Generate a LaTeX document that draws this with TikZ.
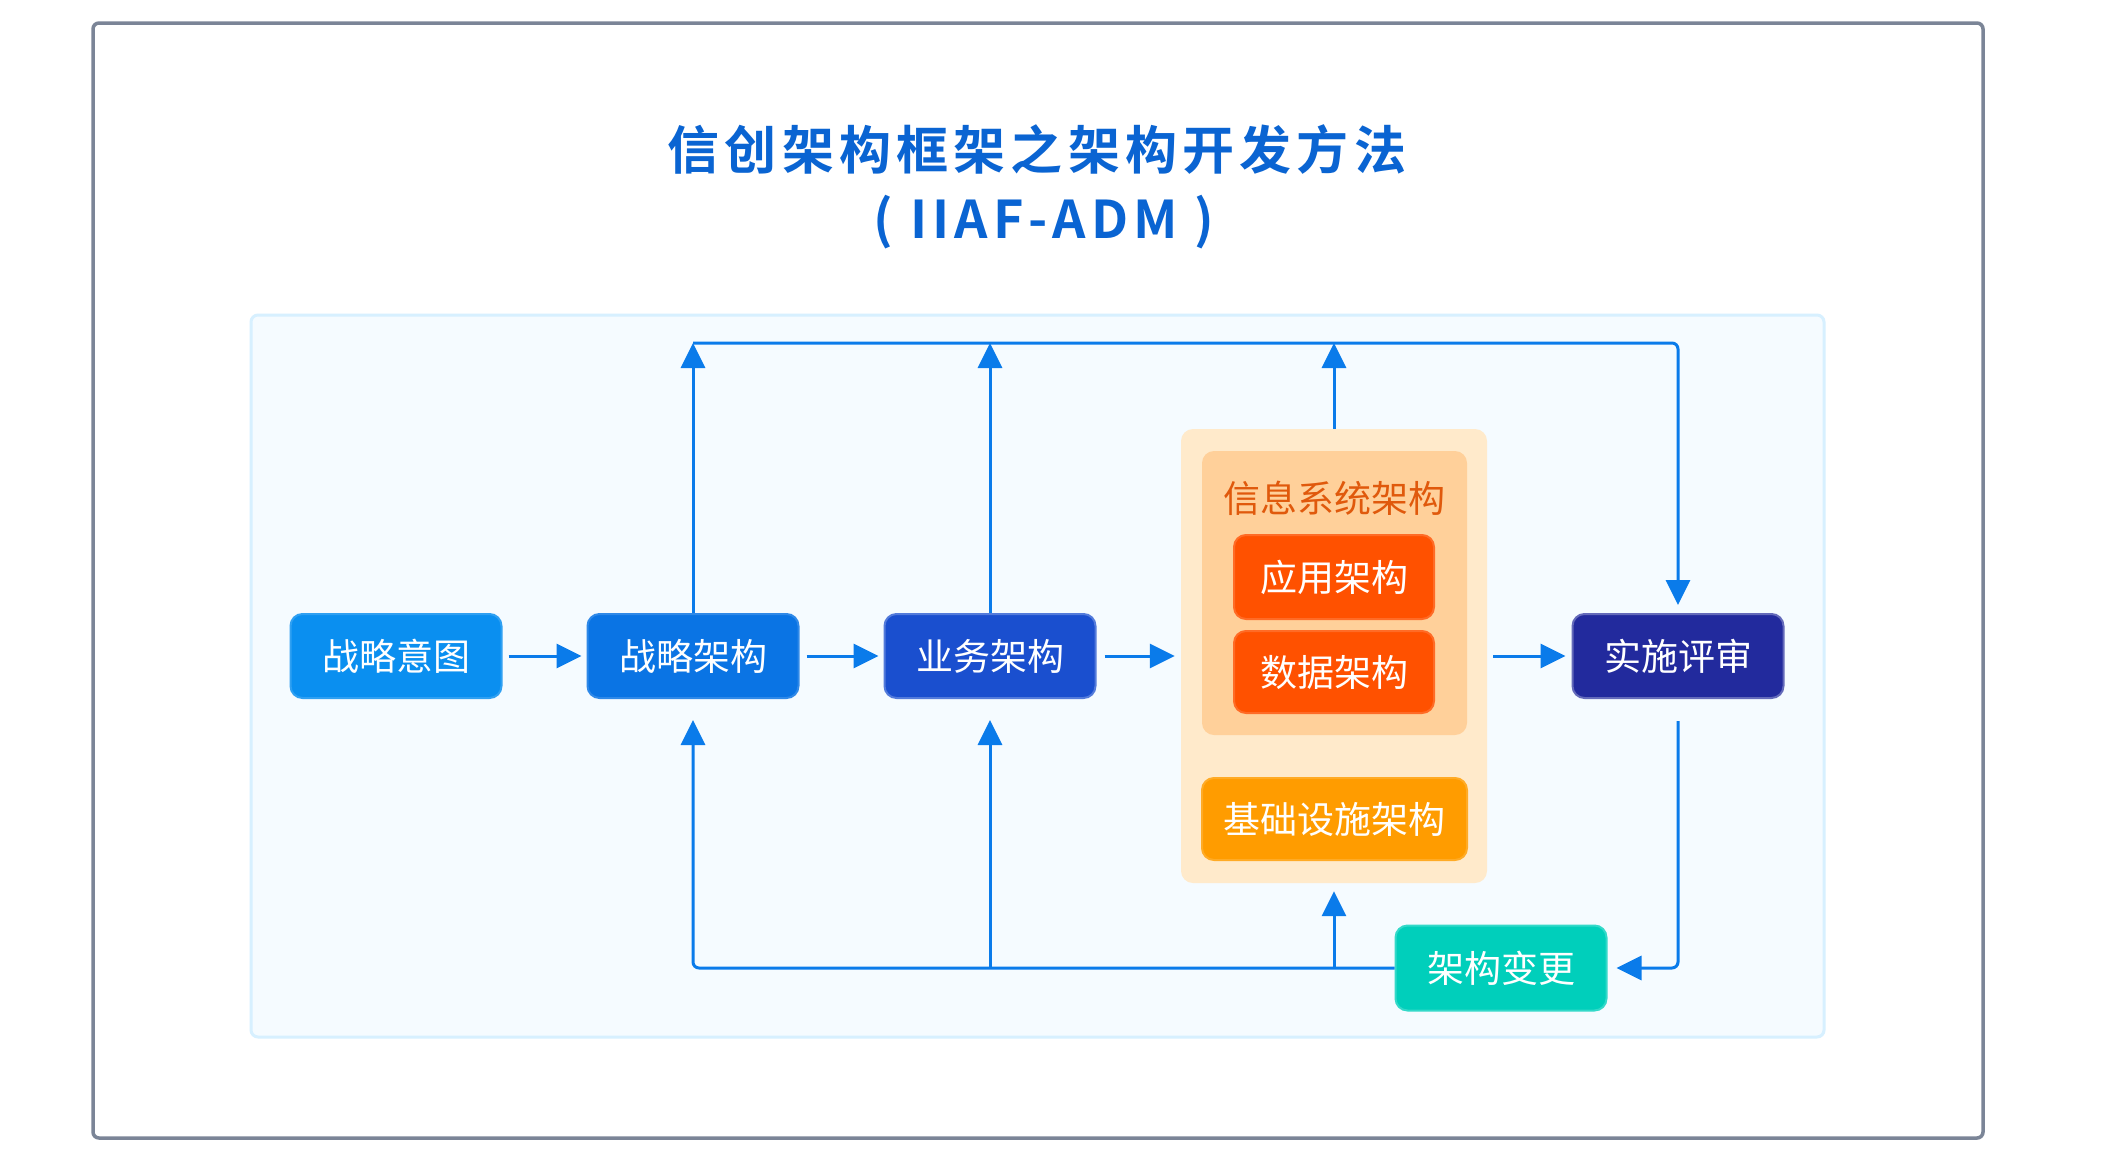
\documentclass[tikz,border=0pt]{standalone}
\usepackage{fontspec}
\setmainfont{Noto Sans CJK SC}[BoldFont={Noto Sans CJK SC Bold}]
\newfontfamily\titlefont{Noto Sans CJK SC Bold}
\usetikzlibrary{arrows.meta}
\definecolor{frameGray}{HTML}{7B8597}
\definecolor{panelFill}{HTML}{F5FBFF}
\definecolor{panelLine}{HTML}{D7F0FF}
\definecolor{titleBlue}{HTML}{0A64D2}
\definecolor{arrowBlue}{HTML}{0A7BEA}
\definecolor{cA}{HTML}{0A8FF0}
\definecolor{cB}{HTML}{0A74E4}
\definecolor{cC}{HTML}{1A4FCF}
\definecolor{cD}{HTML}{222A9D}
\definecolor{cE}{HTML}{00CFBB}
\definecolor{oOuter}{HTML}{FFEACB}
\definecolor{oInner}{HTML}{FFD09A}
\definecolor{oText}{HTML}{E0590C}
\definecolor{oRed}{HTML}{FF5100}
\definecolor{oAmber}{HTML}{FF9C00}
\newcommand{\tk}{\kern5.2pt}
\newcommand{\lk}{\kern5pt}
\tikzset{
  boxbase/.style={rounded corners=12pt, minimum width=211pt, minimum height=84pt,
    text=white, font=\fontsize{37}{40}\selectfont, inner sep=0pt, line width=2pt},
  arr/.style={draw=arrowBlue, line width=3pt, -{Triangle[length=25pt,width=24pt]}},
  plainline/.style={draw=arrowBlue, line width=3pt},
}
\begin{document}
\begin{tikzpicture}[x=1pt,y=-1pt]
\useasboundingbox (0,0) rectangle (2104,1154);
\fill[white] (0,0) rectangle (2104,1154);
% outer frame
\draw[frameGray, line width=3.5pt, rounded corners=6pt] (93,23) rectangle (1983,1138);
% panel
\draw[panelLine, fill=panelFill, line width=3pt, rounded corners=7pt] (251,315) rectangle (1824,1037);
% title
\node[text=titleBlue, font=\titlefont\fontsize{52}{56}\selectfont] (title1) at (1037,150) {信\tk 创\tk 架\tk 构\tk 框\tk 架\tk 之\tk 架\tk 构\tk 开\tk 发\tk 方\tk 法};
\node[text=titleBlue, font=\titlefont\fontsize{52}{56}\selectfont] (title2) at (1044,222) {(\lk\ I\lk I\lk A\lk F\lk -\lk A\lk D\lk M\lk\ )};
% orange container
\node[fill=oOuter, rounded corners=12pt, minimum width=306pt, minimum height=454pt, inner sep=0pt] (ob) at (1334,656) {};
\node[fill=oInner, rounded corners=12pt, minimum width=265pt, minimum height=284pt, inner sep=0pt] (isa) at (1334.5,593) {};
\node[text=oText, font=\fontsize{37}{40}\selectfont] (isaLabel) at (1334,498) {信息系统架构};
\node[boxbase, fill=oRed, draw=oRed!85!white, minimum width=200pt, minimum height=84pt] (app) at (1334,577) {应用架构};
\node[boxbase, fill=oRed, draw=oRed!85!white, minimum width=200pt, minimum height=82pt] (dat) at (1334,672) {数据架构};
\node[boxbase, fill=oAmber, draw=oAmber!85!white, minimum width=265pt, minimum height=82pt] (inf) at (1334.5,819) {基础设施架构};
% main boxes
\node[boxbase, fill=cA, draw=cA!85!white] (si) at (396,656) {战略意图};
\node[boxbase, fill=cB, draw=cB!85!white] (sa) at (693,656) {战略架构};
\node[boxbase, fill=cC, draw=cC!75!white] (ba) at (990,656) {业务架构};
\node[boxbase, fill=cD, draw=cD!70!white] (ir) at (1678,656) {实施评审};
\node[boxbase, fill=cE, draw=cE!80!white, minimum height=85pt] (ac) at (1501,968) {架构变更};
\coordinate (top) at (693,343);
% horizontal arrows
\draw[arr] ([xshift=6pt]si.east) -- ([xshift=-5pt]sa.west);
\draw[arr] ([xshift=7pt]sa.east) -- ([xshift=-5pt]ba.west);
\draw[arr] ([xshift=8pt]ba.east) -- ([xshift=-6pt]ob.west);
\draw[arr] ([xshift=6pt]ob.east) -- ([xshift=-6pt]ir.west);
% top loop
\draw[plainline, rounded corners=6pt, -{Triangle[length=25pt,width=24pt]}] (top) -| ([yshift=8pt]ir.north);
\draw[arr] (sa.north) -- (top);
\draw[arr] (ba.north) -- (ba.north |- top);
\draw[arr] (ob.north) -- (ob.north |- top);
% bottom loop
\draw[arr, rounded corners=6pt] (ac.west) -| ([yshift=-21pt]sa.south);
\draw[arr] (ba.south |- ac.west) -- ([yshift=-21pt]ba.south);
\draw[arr] (ob.south |- ac.west) -- ([yshift=-8pt]ob.south);
\draw[arr, rounded corners=6pt] ([yshift=-22pt]ir.south) |- ([xshift=9pt]ac.east);
\end{tikzpicture}
\end{document}
